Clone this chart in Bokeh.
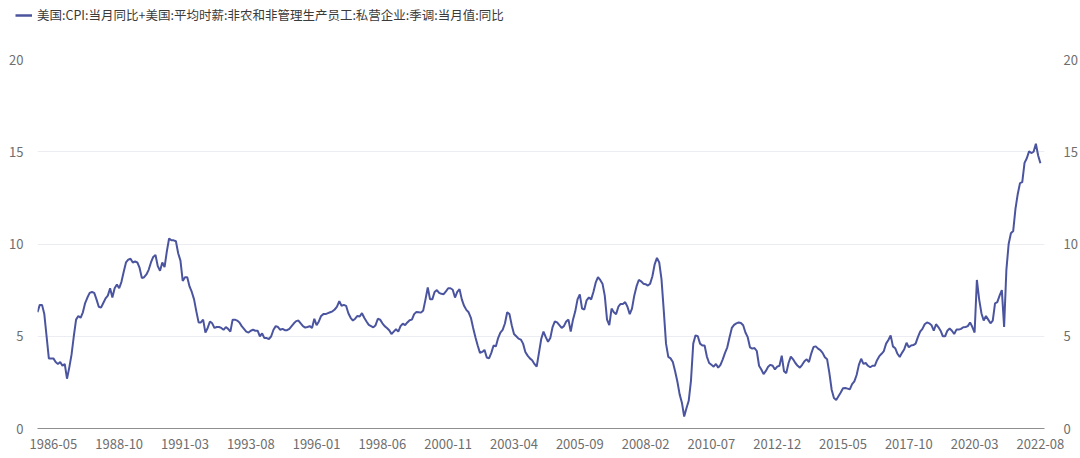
import pandas as pd
from bokeh.plotting import figure
from bokeh.models import (ColumnDataSource, LinearAxis, FixedTicker, Range1d,
                          Legend, LegendItem)
from bokeh.embed import file_html
from bokeh.resources import INLINE

# ---------------- data ----------------
series_name = "美国:CPI:当月同比+美国:平均时薪:非农和非管理生产员工:私营企业:季调:当月值:同比"
start_month = "1985-10"
values = [
    6.3, 6.7, 6.7, 6.2, 5.0, 3.8, 3.8, 3.8, 3.6, 3.5,
    3.6, 3.4, 3.5, 2.7, 3.3, 4.0, 5.0, 5.9, 6.1, 6.0,
    6.3, 6.8, 7.1, 7.35, 7.4, 7.35, 7.0, 6.6, 6.55, 6.8,
    7.05, 7.2, 7.6, 7.1, 7.6, 7.8, 7.6, 7.95, 8.5, 9.0,
    9.15, 9.2, 9.0, 9.05, 9.0, 8.7, 8.15, 8.2, 8.35, 8.6,
    9.0, 9.3, 9.4, 8.8, 8.55, 9.0, 8.75, 9.6, 10.3, 10.2,
    10.2, 10.15, 9.5, 9.1, 8.0, 8.2, 8.2, 7.7, 7.4, 7.0,
    6.35, 5.75, 5.75, 5.9, 5.2, 5.45, 5.8, 5.7, 5.45, 5.5,
    5.5, 5.45, 5.35, 5.5, 5.4, 5.25, 5.9, 5.9, 5.85, 5.75,
    5.55, 5.4, 5.25, 5.2, 5.3, 5.35, 5.3, 5.3, 5.0, 5.15,
    4.9, 4.9, 4.85, 5.0, 5.35, 5.55, 5.5, 5.35, 5.4, 5.33,
    5.33, 5.4, 5.55, 5.7, 5.82, 5.85, 5.7, 5.55, 5.47, 5.5,
    5.55, 5.45, 5.95, 5.6, 5.8, 6.1, 6.2, 6.2, 6.25, 6.3,
    6.35, 6.45, 6.6, 6.9, 6.65, 6.7, 6.65, 6.25, 6.0, 5.85,
    5.95, 6.1, 6.07, 6.25, 6.0, 5.8, 5.62, 5.55, 5.48, 5.6,
    5.95, 5.9, 5.7, 5.55, 5.45, 5.33, 5.12, 5.25, 5.38, 5.25,
    5.55, 5.68, 5.6, 5.75, 5.87, 5.9, 6.2, 6.32, 6.3, 6.28,
    6.4, 7.0, 7.65, 7.0, 7.0, 7.4, 7.5, 7.35, 7.3, 7.28,
    7.43, 7.6, 7.6, 7.52, 7.1, 7.4, 7.55, 7.0, 6.65, 6.43,
    6.3, 6.0, 5.45, 4.95, 4.5, 4.1, 4.15, 4.26, 3.85, 3.8,
    4.1, 4.5, 4.45, 4.9, 5.2, 5.35, 5.69, 6.3, 6.2, 5.6,
    5.12, 5.0, 4.87, 4.82, 4.6, 4.15, 3.95, 3.8, 3.7, 3.5,
    3.35, 4.1, 4.85, 5.25, 4.95, 4.7, 4.9, 5.5, 5.8, 5.75,
    5.6, 5.45, 5.55, 5.8, 5.9, 5.25, 5.9, 6.35, 7.0, 7.27,
    6.5, 6.45, 6.95, 7.1, 7.0, 7.4, 7.9, 8.2, 8.05, 7.85,
    7.2, 5.9, 5.6, 6.5, 6.3, 6.2, 6.6, 6.75, 6.75, 6.85,
    6.6, 6.2, 6.5, 7.2, 7.7, 8.05, 7.98, 7.85, 7.82, 7.75,
    7.85, 8.25, 8.9, 9.25, 9.0, 8.1, 6.4, 4.6, 3.88, 3.8,
    3.6, 3.1, 2.55, 1.85, 1.4, 0.65, 1.1, 1.5, 2.6, 4.6,
    5.05, 5.0, 4.6, 4.5, 4.5, 3.9, 3.55, 3.45, 3.35, 3.5,
    3.3, 3.45, 3.75, 4.1, 4.4, 4.95, 5.45, 5.62, 5.7, 5.75,
    5.72, 5.6, 5.2, 4.95, 4.4, 4.33, 4.36, 4.2, 3.4, 3.2,
    2.95, 3.12, 3.35, 3.45, 3.4, 3.2, 3.35, 3.4, 3.95, 3.1,
    3.0, 3.55, 3.9, 3.75, 3.55, 3.4, 3.3, 3.45, 3.65, 3.75,
    3.6, 4.06, 4.42, 4.45, 4.33, 4.25, 4.1, 3.86, 3.75, 3.0,
    2.1, 1.65, 1.55, 1.75, 1.95, 2.18, 2.19, 2.16, 2.12, 2.4,
    2.55, 2.9, 3.45, 3.78, 3.5, 3.55, 3.4, 3.32, 3.4, 3.4,
    3.7, 3.92, 4.05, 4.2, 4.6, 4.8, 5.05, 4.45, 4.35, 4.05,
    3.88, 4.1, 4.3, 4.65, 4.4, 4.5, 4.52, 4.6, 4.95, 5.25,
    5.4, 5.65, 5.75, 5.7, 5.6, 5.3, 5.65, 5.5, 5.3, 5.0,
    5.0, 5.3, 5.42, 5.3, 5.12, 5.36, 5.36, 5.4, 5.49, 5.5,
    5.55, 5.75, 5.5, 5.2, 8.05, 7.0, 6.25, 5.85, 6.1, 5.9,
    5.7, 5.85, 6.78, 6.85, 7.2, 7.5, 5.5, 8.6, 10.0, 10.58,
    10.7, 11.9, 12.7, 13.3, 13.35, 14.4, 14.65, 15.02, 14.93, 15.0,
    15.43, 14.8, 14.38,
]
tick_labels = ["1986-05", "1988-10", "1991-03", "1993-08", "1996-01", "1998-06",
               "2000-11", "2003-04", "2005-09", "2008-02", "2010-07", "2012-12",
               "2015-05", "2017-10", "2020-03", "2022-08"]
y_ticks = [0, 5, 10, 15, 20]

months = [str(m) for m in pd.period_range(start=start_month, periods=len(values), freq="M")]
idx = list(range(len(values)))
tick_pos = [months.index(t) for t in tick_labels]

src = ColumnDataSource(dict(x=idx, y=values, month=months))

# ---------------- styles ----------------
LINE = "#4b559f"
GRID = "#ececf3"
LABEL = "#6e6e6e"
FONT = "Noto Sans CJK SC"

# ---------------- legend strip (separate root, 30px tall) ----------------
lg = figure(width=1080, height=30, output_backend="svg", toolbar_location=None,
            x_range=Range1d(0, 1080), y_range=Range1d(0, 30),
            x_axis_type=None, y_axis_type=None, min_border=0,
            outline_line_color=None)
lg.xgrid.grid_line_color = None
lg.ygrid.grid_line_color = None
# a swatch renderer kept outside the visible strip; only its legend glyph shows
swatch = lg.line([-20, -10], [-20, -20], line_color=LINE, line_width=2.5)
legend = Legend(items=[LegendItem(label=series_name, renderers=[swatch])],
                location=(15, 6), orientation="horizontal",
                label_text_font=FONT, label_text_font_size="12.5px",
                label_text_color="#3a3a3a", glyph_width=17, glyph_height=14,
                label_standoff=5, padding=2, margin=0, spacing=0,
                border_line_color=None, background_fill_alpha=0)
lg.add_layout(legend)

# ---------------- main chart ----------------
p = figure(width=1080, height=428, output_backend="svg", toolbar_location=None,
           x_range=Range1d(0, 443.8), y_range=Range1d(0, 20),
           min_border_left=37, min_border_right=35, min_border_top=29,
           min_border_bottom=30, outline_line_color=None)

r = p.line("x", "y", source=src, line_color=LINE, line_width=2)

xa = p.xaxis[0]
xa.ticker = FixedTicker(ticks=tick_pos)
xa.major_label_overrides = {pos: lab for pos, lab in zip(tick_pos, tick_labels)}
xa.axis_line_color = "#8f8f8f"
xa.axis_line_width = 1
xa.major_tick_line_color = None
xa.minor_tick_line_color = None
xa.major_label_text_font = FONT
xa.major_label_text_font_size = "13px"
xa.major_label_text_color = LABEL
xa.major_label_standoff = 4

ya = p.yaxis[0]
ya.ticker = FixedTicker(ticks=y_ticks)
ra = LinearAxis(ticker=FixedTicker(ticks=y_ticks))
p.add_layout(ra, "right")
for ax in (ya, ra):
    ax.axis_line_color = None
    ax.major_tick_line_color = None
    ax.minor_tick_line_color = None
    ax.major_label_text_font = FONT
    ax.major_label_text_font_size = "13px"
    ax.major_label_text_color = LABEL
ya.major_label_standoff = 8
ra.major_label_standoff = 13

p.xgrid.grid_line_color = None
p.ygrid.ticker = FixedTicker(ticks=[5, 10, 15, 20])
p.ygrid.grid_line_color = GRID
p.ygrid.grid_line_width = 1

# two independent roots stacked on the page (no frame alignment between them)
open("out.html", "w").write(file_html([lg, p], INLINE))
